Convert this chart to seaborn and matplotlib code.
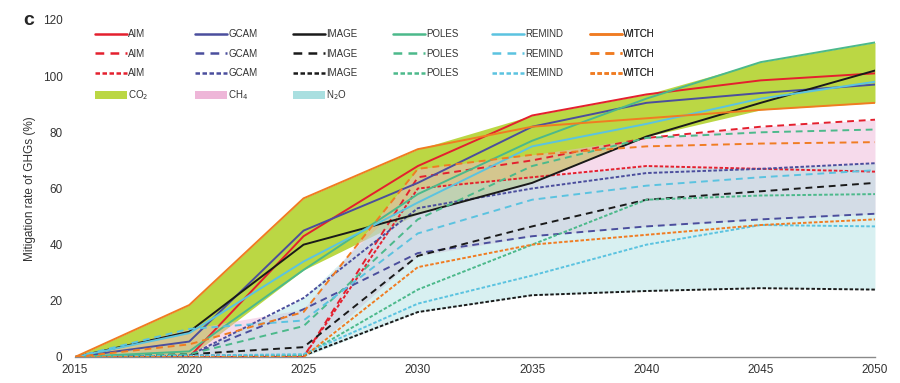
import numpy as np
import pandas as pd
import matplotlib
matplotlib.use("Agg")
import matplotlib.pyplot as plt
from matplotlib.lines import Line2D
from matplotlib.patches import Patch
import seaborn as sns

# values (mitigation rate, %)
years = [2015, 2020, 2025, 2030, 2035, 2040, 2045, 2050]
models = ["AIM", "GCAM", "IMAGE", "POLES", "REMIND", "WITCH"]

# CO2 (solid)
co2_aim = [0, 0, 43, 68, 86, 93.5, 98.5, 101]
co2_gcam = [0, 5.5, 45, 62, 82, 90.5, 94, 97]
co2_image = [0, 9, 40, 51, 62, 78.5, 90.5, 102]
co2_poles = [0, 2, 31, 58, 77, 92, 105, 112]
co2_remind = [0, 8.5, 34, 55, 75, 83, 92, 98]
co2_witch = [0, 18.5, 56.5, 74, 82, 85, 88, 90.5]

# CH4 (long dashes)
ch4_aim = [0, 0, 0, 64, 70, 78, 82, 84.5]
ch4_gcam = [0, 0.5, 17, 37, 43, 46.5, 49, 51]
ch4_image = [0, 1, 3.5, 36, 46.5, 56, 59, 62]
ch4_poles = [0, 1, 11, 49, 68, 78, 80, 81]
ch4_remind = [0, 10, 13, 44, 56, 61, 64, 66.5]
ch4_witch = [0, 4.5, 16, 67, 72, 75, 76, 76.5]

# N2O (short dashes)
n2o_aim = [0, 0, 0, 60, 64, 68, 67, 66]
n2o_gcam = [0, 0.5, 21, 53, 60, 65.5, 67, 69]
n2o_image = [0, 0.5, 0.5, 16, 22, 23.5, 24.5, 24]
n2o_poles = [0, 0, 0.5, 24, 40, 56, 57.5, 58]
n2o_remind = [0, 0.5, 1, 19, 29, 40, 47, 46.5]
n2o_witch = [0, 0, 0, 32, 40, 43.5, 47, 49]

gases = ["CO2", "CH4", "N2O"]
series = {
    "CO2": [co2_aim, co2_gcam, co2_image, co2_poles, co2_remind, co2_witch],
    "CH4": [ch4_aim, ch4_gcam, ch4_image, ch4_poles, ch4_remind, ch4_witch],
    "N2O": [n2o_aim, n2o_gcam, n2o_image, n2o_poles, n2o_remind, n2o_witch],
}

model_colors = {"AIM": "#e4202e", "GCAM": "#4b4e9d", "IMAGE": "#1a1a1a",
                "POLES": "#4cb98b", "REMIND": "#5bc3e0", "WITCH": "#f07c22"}
band_colors = {"CO2": "#bbd744", "CH4": "#eeb6d8", "N2O": "#a9dfe0"}
band_alpha = {"CO2": 1.0, "CH4": 0.5, "N2O": 0.45}
dash_map = {"CO2": "", "CH4": (3.5, 2.5), "N2O": (1.8, 1.0)}
band_labels = {"CO2": "CO$_2$", "CH4": "CH$_4$", "N2O": "N$_2$O"}

rows = []
for gas in gases:
    for model, vals in zip(models, series[gas]):
        for y, v in zip(years, vals):
            rows.append({"year": y, "value": v, "model": model, "gas": gas})
df = pd.DataFrame(rows)

sns.set_style("white")
plt.rcParams["font.family"] = ["Liberation Sans", "DejaVu Sans"]

fig = plt.figure(figsize=(9, 3.83), dpi=100)
ax = fig.add_axes([0.0833, 0.0679, 0.8889, 0.8799])

# bands: range across models for each gas
for gas in gases:
    wide = df[df["gas"] == gas].pivot(index="year", columns="model", values="value")
    ax.fill_between(wide.index, wide.min(axis=1), wide.max(axis=1),
                    color=band_colors[gas], alpha=band_alpha[gas], lw=0, zorder=1)

sns.lineplot(data=df, x="year", y="value", hue="model", style="gas",
             hue_order=models, style_order=gases, palette=model_colors,
             dashes=dash_map, linewidth=1.4, legend=False, ax=ax, zorder=3)

ax.set_xlim(2015, 2050)
ax.set_ylim(0, 120)
ax.set_xticks(years)
ax.set_yticks(range(0, 121, 20))
ax.tick_params(length=0, labelsize=8.5, colors="#333333")
ax.tick_params(axis="y", pad=9)
ax.tick_params(axis="x", pad=5)
ax.set_xlabel("")
ax.set_ylabel("Mitigation rate of GHGs (%)", fontsize=8.5, color="#333333", labelpad=5)
for side in ["top", "right", "left"]:
    ax.spines[side].set_visible(False)
ax.spines["bottom"].set_color("#8a8a8a")
ax.spines["bottom"].set_linewidth(1.0)

fig.text(0.026, 0.935, "c", fontsize=14, fontweight="bold")

# legend: one column per model, band patches in a fourth row
col_x = [95, 195, 293, 393, 492, 590]
for i, model in enumerate(models):
    handles = []
    for gas in gases:
        h = Line2D([], [], color=model_colors[model], lw=1.8)
        if gas != "CO2":
            h.set_dashes(dash_map[gas])
        handles.append(h)
    labels = [model] * 3
    if i < 3:
        gas = gases[i]
        handles.append(Patch(facecolor=band_colors[gas], edgecolor="none"))
        labels.append(band_labels[gas])
    leg = ax.legend(handles, labels, loc="upper left",
                    bbox_to_anchor=((col_x[i] - 75) / 800, 0.972),
                    frameon=False, fontsize=7, handlelength=3.3,
                    handleheight=0.9, handletextpad=0.1, labelspacing=0.98,
                    borderpad=0, borderaxespad=0)
    for t in leg.get_texts():
        t.set_color("#333333")
    ax.add_artist(leg)

fig.savefig("out.png", dpi=100)
